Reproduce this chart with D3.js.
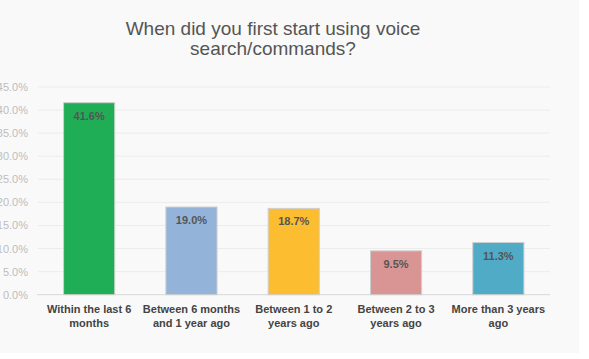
<!DOCTYPE html>
<html><head><meta charset="utf-8">
<script src="https://cdn.jsdelivr.net/npm/d3@7"></script>
<style>html,body{margin:0;padding:0;background:#fff;}svg{display:block;}</style>
</head><body>
<script>
const categories = [
  ["Within the last 6", "months"],
  ["Between 6 months", "and 1 year ago"],
  ["Between 1 to 2", "years ago"],
  ["Between 2 to 3", "years ago"],
  ["More than 3 years", "ago"]
];
const values = [41.6, 19.0, 18.7, 9.5, 11.3];
const colors = ["#1fae55", "#93b4d8", "#fcbd31", "#d99594", "#50abc7"];
const yTicks = [0, 5, 10, 15, 20, 25, 30, 35, 40, 45];
const titleLines = ["When did you first start using voice", "search/commands?"];

const W = 589, H = 359;
const svg = d3.select("body").append("svg").attr("width", W).attr("height", H);
svg.append("rect").attr("x", 0).attr("y", 0).attr("width", 579).attr("height", 353).attr("fill", "#f9f9f9");

const x = d3.scaleBand().domain(d3.range(values.length)).range([38, 549.5]).paddingInner(0.5).paddingOuter(0.25);
const y = d3.scaleLinear().domain([0, 45]).range([294.7, 87]);

// gridlines
svg.append("g").selectAll("line").data(yTicks.slice(1)).join("line")
  .attr("x1", 38).attr("x2", 550).attr("y1", d => y(d)).attr("y2", d => y(d))
  .attr("stroke", "#ececec").attr("stroke-width", 1);
svg.append("line").attr("x1", 37).attr("x2", 550).attr("y1", y(0)).attr("y2", y(0))
  .attr("stroke", "#d8d8d8").attr("stroke-width", 1);

// y axis
const yAxis = d3.axisLeft(y).tickValues(yTicks).tickFormat(d => d.toFixed(1) + "%").tickSize(0).tickPadding(0);
const ga = svg.append("g").attr("transform", "translate(28,0)").call(yAxis);
ga.select(".domain").remove();
ga.selectAll("text").attr("font-family", "Liberation Sans, Arial, sans-serif").attr("font-size", 11).attr("fill", "#bdbdbd");

// bars
svg.append("g").selectAll("rect").data(values).join("rect")
  .attr("x", (d, i) => x(i)).attr("width", x.bandwidth())
  .attr("y", d => y(d)).attr("height", d => y(0) - y(d))
  .attr("fill", (d, i) => colors[i]).attr("stroke", "#cfcfcf").attr("stroke-width", 1);

// value labels
svg.append("g").selectAll("text").data(values).join("text")
  .attr("x", (d, i) => x(i) + x.bandwidth() / 2).attr("y", d => y(d) + 17)
  .attr("text-anchor", "middle").attr("font-family", "Liberation Sans, Arial, sans-serif")
  .attr("font-weight", "bold").attr("font-size", 11).attr("fill", "#555")
  .text(d => d.toFixed(1) + "%");

// category labels
const cg = svg.append("g").selectAll("text").data(categories).join("text")
  .attr("text-anchor", "middle").attr("font-family", "Liberation Sans, Arial, sans-serif")
  .attr("font-weight", "bold").attr("font-size", 11).attr("fill", "#444");
cg.each(function(d, i) {
  const t = d3.select(this);
  d.forEach((line, j) => {
    t.append("tspan").attr("x", x(i) + x.bandwidth() / 2).attr("y", 313 + j * 14).text(line);
  });
});

// title
svg.append("g").selectAll("text").data(titleLines).join("text")
  .attr("x", 273).attr("y", (d, i) => 35 + i * 20)
  .attr("text-anchor", "middle").attr("font-family", "Liberation Sans, Arial, sans-serif")
  .attr("font-size", 19).attr("fill", "#555").text(d => d);
</script>
</body></html>
